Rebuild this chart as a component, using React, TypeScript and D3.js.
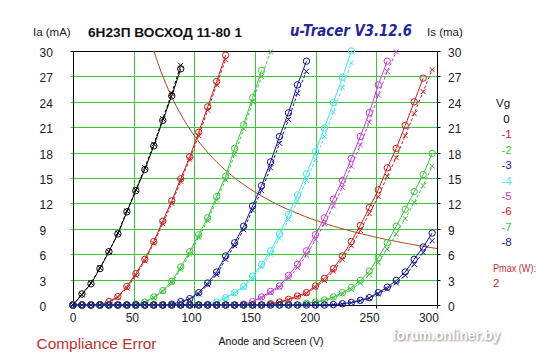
import React from "react";
import * as d3 from "d3";

const W = 547;
const H = 357;

// anode sweep voltages (V)
const sweepV = [0, 7.4, 14.8, 22.2, 29.6, 37, 44.4, 51.8, 59.2, 66.6, 74, 81.4, 88.8, 96.2, 103.6, 111, 118.4, 125.8, 133.2, 140.6, 148, 155.4, 162.8, 170.2, 177.6, 185, 192.4, 199.8, 207.2, 214.6, 222, 229.4, 236.8, 244.2, 251.6, 259, 266.4, 273.8, 281.2, 288.6, 296];

const xTicks = [0, 50, 100, 150, 200, 250, 300];
const yTicks = [0, 3, 6, 9, 12, 15, 18, 21, 24, 27, 30];
const vgLabels = ["0", "-1", "-2", "-3", "-4", "-5", "-6", "-7", "-8"];
const vgColors = ["#000000", "#c82020", "#3cc43c", "#12128c", "#44e4ee", "#c23cd0", "#c82020", "#3cc43c", "#12128c"];
const pmaxW = 2;

// Anode current (mA), circles, solid
const ia0 = [0, 1.3, 2.5, 4.3, 6.3, 8.4, 11.0, 13.5, 16.0, 18.8, 21.8, 24.7, 27.9];
const ia1 = [0, 0, 0, 0.05, 0.4, 1.0, 2.2, 3.7, 5.4, 7.5, 9.9, 12.3, 14.9, 17.5, 20.4, 23.4, 26.4, 29.5];
const ia2 = [0, 0, 0, 0, 0, 0, 0, 0.1, 0.35, 0.95, 1.7, 2.8, 4.5, 6.3, 8.3, 10.3, 12.8, 15.2, 18.5, 21.3, 24.5, 27.7];
const ia3 = [0, 0, 0, 0, 0, 0, 0, 0, 0, 0, 0, 0.1, 0.4, 0.75, 1.46, 2.6, 3.9, 5.8, 7.35, 9.3, 11.7, 14.1, 16.9, 19.9, 22.7, 26.0, 28.8];
const ia4 = [0, 0, 0, 0, 0, 0, 0, 0, 0, 0, 0, 0, 0, 0, 0, 0.1, 0.35, 0.87, 1.46, 2.2, 3.4, 4.8, 6.4, 8.4, 10.7, 13.0, 15.5, 18.1, 20.9, 23.9, 26.9, 30.0];
const ia5 = [0, 0, 0, 0, 0, 0, 0, 0, 0, 0, 0, 0, 0, 0, 0, 0, 0, 0, 0, 0.1, 0.4, 0.95, 1.6, 2.25, 3.5, 4.8, 6.4, 8.3, 10.3, 12.5, 14.7, 17.3, 19.9, 22.7, 26.0, 28.8];
const ia6 = [0, 0, 0, 0, 0, 0, 0, 0, 0, 0, 0, 0, 0, 0, 0, 0, 0, 0, 0, 0, 0, 0, 0.15, 0.35, 0.67, 1.06, 1.46, 2.25, 3.15, 4.3, 5.8, 7.5, 9.4, 11.5, 13.6, 16.2, 18.5, 21.2, 24.0, 26.8];
const ia7 = [0, 0, 0, 0, 0, 0, 0, 0, 0, 0, 0, 0, 0, 0, 0, 0, 0, 0, 0, 0, 0, 0, 0, 0, 0, 0, 0.2, 0.35, 0.6, 0.95, 1.46, 2.05, 2.9, 4.0, 5.6, 7.35, 9.3, 11.3, 13.4, 15.4, 17.9];
const ia8 = [0, 0, 0, 0, 0, 0, 0, 0, 0, 0, 0, 0, 0, 0, 0, 0, 0, 0, 0, 0, 0, 0, 0, 0, 0, 0, 0, 0, 0, 0.05, 0.15, 0.3, 0.55, 0.87, 1.46, 2.1, 2.9, 3.9, 5.4, 6.85, 8.5];

// Screen current (mA), crosses, dashed
const is0 = [0, 1.2, 2.6, 4.4, 6.3, 8.5, 11.1, 13.6, 16.2, 19.0, 22.0, 25.0, 28.3];
const is1 = [0, 0, 0, 0, 0.3, 0.9, 2.0, 3.5, 5.2, 7.3, 9.6, 12.0, 14.6, 17.2, 20.0, 23.0, 26.0, 29.0];
const is2 = [0, 0, 0, 0, 0, 0, 0, 0.05, 0.3, 0.85, 1.6, 2.6, 4.2, 6.0, 8.0, 10.0, 12.4, 14.8, 17.8, 20.8, 24.0, 27.0, 29.9];
const is3 = [0, 0, 0, 0, 0, 0, 0, 0, 0, 0, 0, 0.05, 0.3, 0.65, 1.3, 2.4, 3.6, 5.4, 7.0, 8.9, 11.2, 13.5, 16.2, 19.1, 21.9, 25.0, 27.6];
const is4 = [0, 0, 0, 0, 0, 0, 0, 0, 0, 0, 0, 0, 0, 0, 0, 0.05, 0.3, 0.8, 1.35, 2.05, 3.1, 4.5, 6.0, 7.9, 10.1, 12.3, 14.7, 17.2, 19.9, 22.8, 25.7, 28.6];
const is5 = [0, 0, 0, 0, 0, 0, 0, 0, 0, 0, 0, 0, 0, 0, 0, 0, 0, 0, 0, 0.05, 0.3, 0.85, 1.45, 2.1, 3.2, 4.4, 5.9, 7.7, 9.6, 11.7, 13.9, 16.4, 18.9, 21.6, 24.8, 27.6, 29.9];
const is6 = [0, 0, 0, 0, 0, 0, 0, 0, 0, 0, 0, 0, 0, 0, 0, 0, 0, 0, 0, 0, 0, 0, 0.1, 0.3, 0.6, 0.95, 1.35, 2.1, 2.9, 4.0, 5.4, 7.0, 8.8, 10.8, 12.8, 15.2, 17.4, 20.0, 22.6, 25.2, 27.8];
const is7 = [0, 0, 0, 0, 0, 0, 0, 0, 0, 0, 0, 0, 0, 0, 0, 0, 0, 0, 0, 0, 0, 0, 0, 0, 0, 0, 0.15, 0.3, 0.5, 0.85, 1.3, 1.85, 2.6, 3.6, 5.0, 6.6, 8.4, 10.2, 12.1, 14.1, 16.4];
const is8 = [0, 0, 0, 0, 0, 0, 0, 0, 0, 0, 0, 0, 0, 0, 0, 0, 0, 0, 0, 0, 0, 0, 0, 0, 0, 0, 0, 0, 0, 0.03, 0.1, 0.25, 0.5, 0.8, 1.3, 1.9, 2.6, 3.5, 4.8, 6.2, 7.6];

const iaSeries = [ia0, ia1, ia2, ia3, ia4, ia5, ia6, ia7, ia8];
const isSeries = [is0, is1, is2, is3, is4, is5, is6, is7, is8];

const FONT = "'Liberation Sans', Arial, sans-serif";

export default function App() {
  const x = d3.scaleLinear().domain([0, 300]).range([73, 437]);
  const y = d3.scaleLinear().domain([0, 30]).range([305, 51]);
  const px = (v: number) => Math.round(x(v)) + 0.5;
  const py = (v: number) => Math.round(y(v)) + 0.5;

  const line = d3
    .line<number>()
    .x((_, i) => x(sweepV[i]))
    .y((d) => y(d));

  const pmaxPts: [number, number][] = [];
  const vStart = (pmaxW * 1000) / 30;
  for (let v = vStart; v <= 300.001; v += 2) pmaxPts.push([v, (pmaxW * 1000) / v]);
  pmaxPts.push([300, (pmaxW * 1000) / 300]);
  const pmaxLine = d3
    .line<[number, number]>()
    .x((d) => x(d[0]))
    .y((d) => y(d[1]));

  const left = px(0);
  const right = px(300);
  const top = py(30);
  const bottom = py(0);

  return (
    <svg width={W} height={H} style={{ position: "absolute", left: 0, top: 0, background: "#fff" }} fontFamily={FONT}>
      <defs>
        <filter id="blur" x="-10%" y="-30%" width="120%" height="160%">
          <feGaussianBlur stdDeviation="1.3" />
        </filter>
      </defs>
      <rect width={W} height={H} fill="#fff" />

      {/* grid */}
      {xTicks.slice(1, -1).map((t) => (
        <line key={"gx" + t} x1={px(t)} x2={px(t)} y1={top} y2={bottom} stroke="#3cc43c" strokeWidth={1} />
      ))}
      {yTicks.slice(1, -1).map((t) => (
        <line key={"gy" + t} x1={left - 3} x2={right} y1={py(t)} y2={py(t)} stroke="#3cc43c" strokeWidth={1} />
      ))}
      {/* right ticks */}
      {yTicks.map((t) => (
        <line key={"rt" + t} x1={right} x2={right + 3} y1={py(t)} y2={py(t)} stroke="#000" strokeWidth={1} />
      ))}
      <line x1={left - 3} x2={left} y1={top} y2={top} stroke="#000" />
      <line x1={left - 3} x2={left} y1={bottom} y2={bottom} stroke="#000" />
      {xTicks.map((t) => (
        <line key={"bt" + t} x1={px(t)} x2={px(t)} y1={bottom} y2={bottom + 3} stroke="#000" strokeWidth={1} />
      ))}
      <rect x={left} y={top} width={right - left} height={bottom - top} fill="none" stroke="#000" strokeWidth={1} />

      {/* Pmax hyperbola */}
      <path d={pmaxLine(pmaxPts) || ""} fill="none" stroke="#b4401e" strokeWidth={1} />

      {/* curves */}
      {iaSeries.map((ia, s) => {
        const c = vgColors[s];
        const is = isSeries[s];
        return (
          <g key={"s" + s}>
            <path d={line(is) || ""} fill="none" stroke={c} strokeWidth={1} strokeDasharray="3,2" />
            {is.map((v, i) => (
              <path
                key={"x" + i}
                d={`M${x(sweepV[i]) - 2.5},${y(v) - 2.5}L${x(sweepV[i]) + 2.5},${y(v) + 2.5}M${x(sweepV[i]) - 2.5},${y(v) + 2.5}L${x(sweepV[i]) + 2.5},${y(v) - 2.5}`}
                stroke={c}
                strokeWidth={1}
              />
            ))}
            <path d={line(ia) || ""} fill="none" stroke={c} strokeWidth={1} />
            {ia.map((v, i) => (
              <circle key={"c" + i} cx={x(sweepV[i])} cy={y(v)} r={3.2} fill="none" stroke={c} strokeWidth={1} />
            ))}
          </g>
        );
      })}

      {/* y tick labels */}
      {yTicks.map((t) => (
        <text key={"yl" + t} x={39.5} y={py(t) + 5} fontSize={12} fill="#222">
          {t}
        </text>
      ))}
      {yTicks.map((t) => (
        <text key={"yr" + t} x={448} y={py(t) + 5} fontSize={12} fill="#222">
          {t}
        </text>
      ))}
      {/* x tick labels */}
      {xTicks.map((t) => (
        <text key={"xl" + t} x={x(t) - t * 0.027} y={322} fontSize={12} fill="#222" textAnchor="middle">
          {t}
        </text>
      ))}

      {/* titles */}
      <text x={33} y={36} fontSize={11.5} fill="#222">Ia (mA)</text>
      <text x={88} y={36.5} fontSize={13.5} fontWeight="bold" fill="#111" textLength={154} lengthAdjust="spacingAndGlyphs">
        6H23П ВОСХОД 11-80 1
      </text>
      <text x={290} y={36} fontSize={15} fontWeight="bold" fontStyle="italic" fill="#262696" fontFamily="'DejaVu Sans', Verdana, sans-serif" textLength={122} lengthAdjust="spacingAndGlyphs">
        u-Tracer V3.12.6
      </text>
      <text x={427} y={36} fontSize={11.5} fill="#222">Is (ma)</text>

      {/* axis title */}
      <text x={218.5} y={345} fontSize={11.5} fill="#111" textLength={105} lengthAdjust="spacingAndGlyphs">
        Anode and Screen (V)
      </text>
      <text x={36.5} y={349} fontSize={15.5} fill="#c03030" textLength={120} lengthAdjust="spacingAndGlyphs">
        Compliance Error
      </text>

      {/* legend */}
      <text x={496} y={106.5} fontSize={11.5} fill="#111">Vg</text>
      {vgLabels.map((l, i) => (
        <text key={"lg" + i} x={506.5} y={123 + i * 15.4} fontSize={11.5} textAnchor="middle" fill={vgColors[i]}>
          {l}
        </text>
      ))}
      <text x={493} y={272} fontSize={11.5} fill="#c03030" textLength={43} lengthAdjust="spacingAndGlyphs">Pmax (W):</text>
      <text x={493} y={287} fontSize={11.5} fill="#c03030">{pmaxW}</text>

      {/* watermark */}
      <text x={393} y={341} fontSize={14} fontWeight="bold" fill="#555" filter="url(#blur)" textLength={108} lengthAdjust="spacingAndGlyphs" opacity={0.8}>
        forum.onliner.by
      </text>
      <text x={392} y={340} fontSize={14} fontWeight="bold" fill="#fff" textLength={108} lengthAdjust="spacingAndGlyphs">
        forum.onliner.by
      </text>
    </svg>
  );
}
